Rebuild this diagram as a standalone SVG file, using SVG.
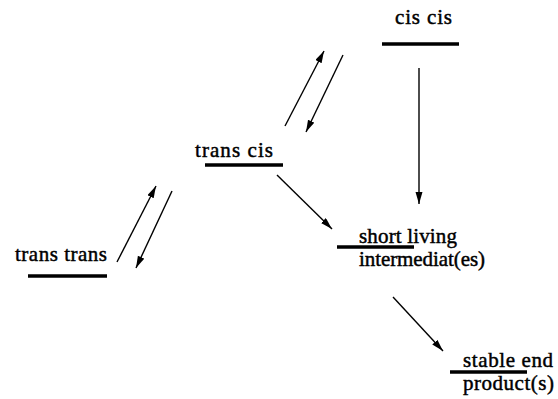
<svg xmlns="http://www.w3.org/2000/svg" width="558" height="399" viewBox="0 0 558 399">
<style>
.t{font-family:'Liberation Serif','Times New Roman',serif;font-size:21px;fill:#000;stroke:#000;stroke-width:0.45}
.bar{stroke:#000;stroke-width:3.5;stroke-linecap:butt}
.arr{stroke:#000;stroke-width:1.4;fill:none;marker-end:url(#ah)}
</style>
<defs>
<marker id="ah" markerUnits="userSpaceOnUse" markerWidth="13" markerHeight="8" refX="12" refY="3.5" orient="auto">
<path d="M0,0 L12,3.5 L0,7 z" fill="#000"/>
</marker>
</defs>
<rect width="558" height="399" fill="#fff"/>
<g id="cis-cis">
<text class="t" x="395" y="24" textLength="57" lengthAdjust="spacing">cis cis</text>
<line class="bar" x1="382" y1="44" x2="459" y2="44"/>
</g>
<g id="trans-cis">
<text class="t" x="195" y="157" textLength="78" lengthAdjust="spacing">trans cis</text>
<line class="bar" x1="205" y1="165" x2="283" y2="165"/>
</g>
<g id="trans-trans">
<text class="t" x="15" y="261" textLength="92" lengthAdjust="spacing">trans trans</text>
<line class="bar" x1="28" y1="276" x2="107" y2="276"/>
</g>
<g id="short-living">
<text class="t" x="359" y="243" textLength="98" lengthAdjust="spacing">short living</text>
<text class="t" x="359" y="266" textLength="126" lengthAdjust="spacing">intermediat(es)</text>
<line class="bar" x1="337" y1="247" x2="414" y2="247"/>
</g>
<g id="stable-end">
<text class="t" x="463" y="367" textLength="90" lengthAdjust="spacing">stable end</text>
<text class="t" x="463" y="390" textLength="91" lengthAdjust="spacing">product(s)</text>
<line class="bar" x1="450" y1="372" x2="527" y2="372"/>
</g>
<g id="connectors">
<line class="arr" x1="285" y1="126" x2="324" y2="51"/>
<line class="arr" x1="343" y1="55" x2="306" y2="132"/>
<line class="arr" x1="117" y1="262" x2="156" y2="186"/>
<line class="arr" x1="172" y1="191" x2="136" y2="268"/>
<line class="arr" x1="419" y1="68" x2="419" y2="204"/>
<line class="arr" x1="277" y1="175" x2="332" y2="229"/>
<line class="arr" x1="393" y1="297" x2="443" y2="351"/>
</g>
</svg>
